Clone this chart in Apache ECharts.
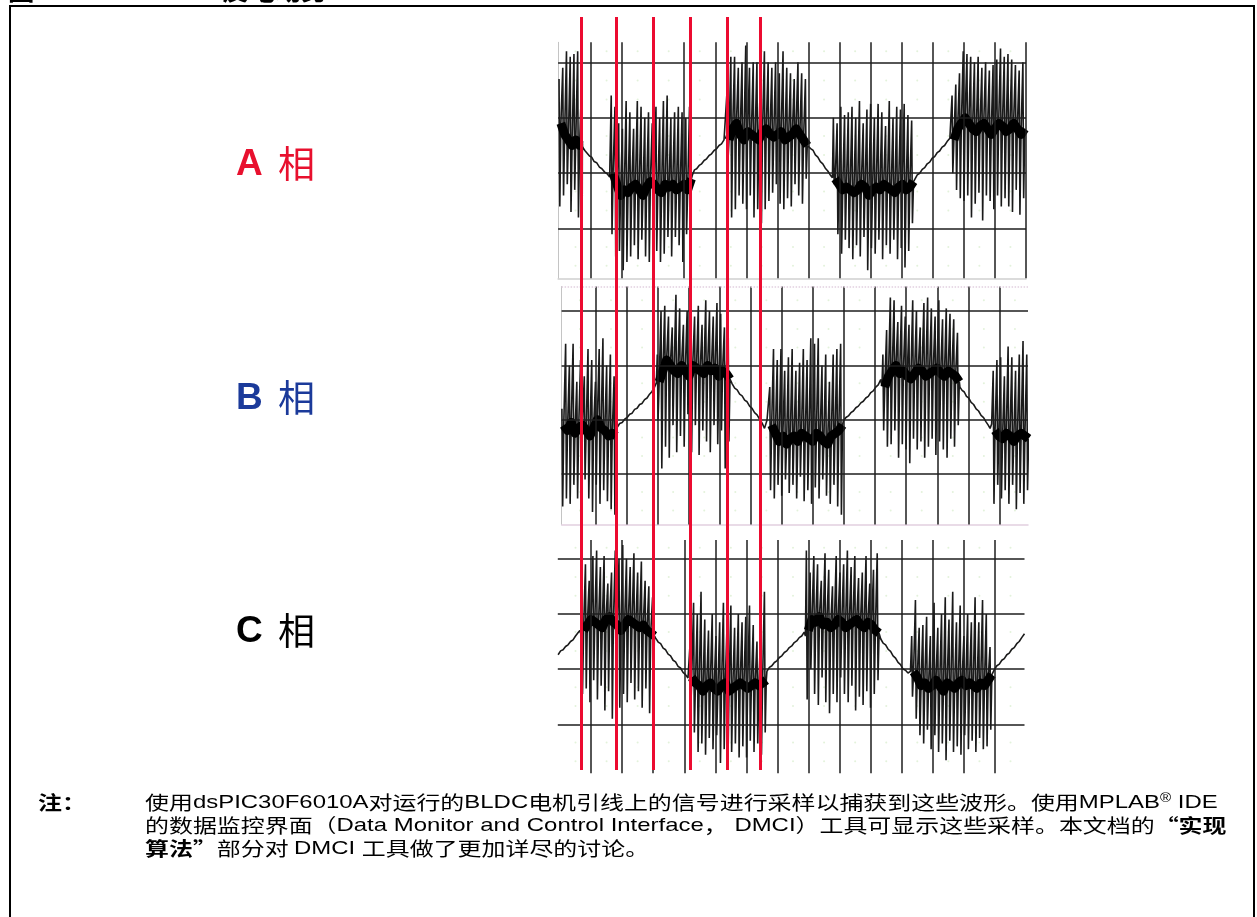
<!DOCTYPE html>
<html>
<head>
<meta charset="utf-8">
<script src="https://cdn.jsdelivr.net/npm/echarts@6/dist/echarts.min.js"></script>
<style>
html,body{margin:0;padding:0;background:#fff;}
#chart{width:1257px;height:917px;}
</style>
</head>
<body>
<div id="chart"></div>
<script>
// Scope traces: time in screen divisions, voltage in screen divisions.
const divisionTicks = [1, 2, 3, 4, 5, 6, 7, 8, 9, 10, 11, 12, 13, 14, 15];
const voltageLevels = [0, 1, 2, 3];
const minorDotX = [0.5, 1.5, 2.5, 3.5, 4.5, 5.5, 6.5, 7.5, 8.5, 9.5, 10.5, 11.5, 12.5, 13.5, 14.5];
const minorDotY = [-0.67, -0.33, 0.33, 0.67, 1.33, 1.67, 2.33, 2.67, 3.2];
const pwmPeriod = 0.12;                      // time between PWM samples
const commutationMarks = [0.70, 1.82, 3.00, 4.18, 5.37, 6.44];

// ---- Phase A ----
const phaseA_start = [-0.03, 1.65, 5.38, 8.80, 12.62];
const phaseA_hi = [
  [2.7, 2.9, 3.2, 3.1, 3.15, 3.2, 2.5],
  [2.4, 2.2, 1.9, 1.8, 2.3, 2.1, 1.8, 2.3, 2.2, 2.0, 2.1, 1.9, 2.2, 2.0, 2.3, 2.4, 2.0, 2.1, 2.2, 2.1, 2.0, 2.2],
  [2.5, 3.1, 3.1, 2.9, 3.0, 3.3, 2.9, 3.0, 3.0, 2.9, 3.2, 3.0, 2.9, 3.0, 2.8, 3.2, 2.9, 2.8, 2.7, 3.0, 2.8, 2.7],
  [2.0, 1.9, 2.2, 2.05, 2.1, 2.2, 2.0, 2.3, 1.9, 2.15, 2.25, 2.0, 2.25, 2.1, 1.85, 2.3, 2.0, 2.2, 2.15, 2.25, 2.05, 1.95],
  [2.4, 2.6, 2.8, 3.2, 3.15, 3.1, 3.0, 3.1, 2.9, 3.0, 2.85, 2.95, 3.05, 3.25, 3.1, 3.15, 3.05, 2.95, 2.85, 3.0]
];
const phaseA_lo = [
  [0.4, 0.6, 0.8, 0.3, 0.7, 0.2, 0.1],
  [-0.1, -0.5, -0.4, -0.75, -0.6, -0.5, -0.3, -0.55, -0.2, -0.5, -0.6, -0.25, -0.4, -0.6, -0.45, -0.15, -0.5, -0.15, -0.3, -0.6, -0.1, -0.7],
  [1.2, 0.2, 0.35, 0.6, 0.45, 0.35, 0.6, 0.2, 0.35, 0.1, 0.35, 0.5, 0.65, 0.8, 0.45, 0.35, 0.55, 0.4, 0.8, 0.6, 0.45, 0.9],
  [0.8, -0.1, -0.45, -0.2, -0.35, -0.55, -0.3, -0.5, -0.15, -0.75, -0.35, -0.45, -0.2, -0.55, -0.3, -0.45, -0.2, -0.55, -0.35, -0.7, -0.4, 0.1],
  [1.0, 0.7, 0.55, 0.5, 0.6, 0.2, 0.45, 0.65, 0.15, 0.6, 0.5, 0.35, 0.6, 0.4, 0.55, 0.4, 0.3, 0.7, 0.25, 0.55]
];
const phaseA_mid = [
  [1.9, 1.7, 1.6, 1.5, 1.6, 1.5, 1.5],
  [1.0, 0.8, 0.6, 0.7, 0.65, 0.75, 0.8, 0.7, 0.6, 0.75, 0.85, 0.8, 0.7, 0.65, 0.8, 0.75, 0.8, 0.7, 0.75, 0.8, 0.7, 0.9],
  [1.6, 1.8, 1.9, 1.7, 1.6, 1.75, 1.7, 1.65, 1.6, 1.75, 1.8, 1.7, 1.65, 1.7, 1.75, 1.6, 1.65, 1.7, 1.8, 1.7, 1.6, 1.5],
  [0.9, 0.8, 0.7, 0.75, 0.7, 0.65, 0.7, 0.8, 0.75, 0.6, 0.7, 0.75, 0.7, 0.8, 0.75, 0.7, 0.65, 0.75, 0.8, 0.7, 0.75, 0.85],
  [1.6, 1.8, 1.9, 2.0, 1.9, 1.8, 1.75, 1.85, 1.9, 1.8, 1.7, 1.8, 1.9, 1.85, 1.75, 1.8, 1.9, 1.8, 1.7, 1.8]
];
const phaseA_ramps = [
  [[0.72,1.48],[0.80,1.41],[0.86,1.39],[0.95,1.31],[1.02,1.29],[1.10,1.21],[1.18,1.19],[1.27,1.11],[1.35,1.08],[1.44,1.02],[1.52,0.99],[1.60,0.93]],
  [[4.27,0.98],[4.33,1.06],[4.40,1.08],[4.48,1.14],[4.56,1.17],[4.64,1.23],[4.72,1.26],[4.80,1.32],[4.88,1.35],[4.96,1.41],[5.04,1.44],[5.12,1.50],[5.20,1.53],[5.28,1.60],[5.34,1.63]],
  [[8.00,1.52],[8.08,1.44],[8.15,1.41],[8.22,1.33],[8.30,1.29],[8.38,1.21],[8.46,1.17],[8.54,1.09],[8.62,1.04],[8.70,0.97],[8.77,0.92]],
  [[11.43,0.90],[11.50,0.97],[11.58,1.00],[11.66,1.07],[11.74,1.10],[11.82,1.17],[11.90,1.20],[11.98,1.27],[12.06,1.30],[12.14,1.37],[12.22,1.40],[12.30,1.47],[12.38,1.50],[12.46,1.57],[12.55,1.63]]
];

// ---- Phase B ----
const phaseB_start = [-0.08, 2.99, 6.61, 10.25, 13.80];
const phaseB_hi = [
  [1.2, 2.4, 2.0, 2.4, 1.7, 2.1, 1.8, 2.3, 2.1, 1.7, 2.3, 2.5, 2.0, 2.2, 1.8],
  [2.2, 3.0, 3.1, 2.9, 2.7, 3.3, 3.05, 2.75, 3.0, 3.15, 2.9, 3.1, 2.75, 3.2, 3.0, 2.9, 3.15, 2.95, 2.7, 2.75],
  [1.6, 2.3, 2.1, 2.3, 1.9, 2.15, 2.3, 1.9, 2.05, 2.3, 2.1, 2.5, 2.4, 2.5, 2.0, 2.2, 1.7, 2.2, 2.3, 2.4],
  [2.2, 2.65, 3.25, 3.2, 2.8, 3.1, 2.9, 2.75, 3.2, 3.0, 2.7, 3.15, 3.25, 3.05, 2.9, 3.2, 2.85, 3.05, 2.95, 2.85, 2.6],
  [1.9, 2.1, 2.15, 1.8, 2.35, 2.15, 1.9, 2.2, 2.45, 2.2]
];
const phaseB_lo = [
  [-0.6, -0.45, -0.55, -0.2, -0.45, -0.3, -0.1, -0.45, -0.7, -0.2, -0.55, -0.3, -0.5, -0.65, -0.75],
  [1.0, 0.1, 0.5, 0.3, 0.9, 0.4, 0.7, 0.5, 1.1, 0.4, 0.9, 0.35, 0.8, 0.6, 0.4, 0.9, 0.55, 0.8, 0.1, 0.6],
  [-0.3, -0.45, -0.2, -0.4, -0.1, -0.35, -0.2, -0.45, -0.05, -0.5, -0.3, -0.55, -0.25, -0.45, -0.1, -0.4, -0.55, -0.2, -0.6, -0.75],
  [0.8, 0.5, 0.55, 0.8, 0.3, 0.55, 0.45, 0.2, 0.65, 0.45, 0.6, 0.3, 0.5, 0.65, 0.35, 0.6, 0.45, 0.3, 0.65, 0.5, 0.9],
  [-0.55, -0.2, -0.45, -0.3, -0.55, -0.2, -0.65, -0.35, -0.55, -0.3]
];
const phaseB_mid = [
  [0.9, 0.8, 0.95, 0.75, 0.85, 0.9, 0.8, 0.7, 0.85, 1.0, 0.85, 0.8, 0.7, 0.75, 0.7],
  [1.7, 1.9, 2.1, 2.0, 1.9, 1.85, 2.0, 1.9, 1.8, 2.0, 1.95, 1.9, 1.85, 2.0, 1.9, 1.95, 1.8, 1.9, 1.85, 1.75],
  [0.9, 0.75, 0.6, 0.7, 0.55, 0.65, 0.7, 0.6, 0.75, 0.7, 0.65, 0.6, 0.75, 0.7, 0.6, 0.55, 0.7, 0.75, 0.8, 0.9],
  [1.6, 1.8, 1.9, 2.0, 1.85, 1.9, 1.8, 1.75, 1.85, 1.95, 1.9, 1.8, 1.85, 1.9, 1.95, 1.85, 1.8, 1.9, 1.85, 1.8, 1.7],
  [0.8, 0.7, 0.65, 0.75, 0.7, 0.6, 0.7, 0.75, 0.7, 0.65]
];
const phaseB_ramps = [
  [[1.70,0.86],[1.78,0.93],[1.86,0.95],[1.94,1.01],[2.02,1.04],[2.10,1.10],[2.18,1.12],[2.26,1.19],[2.34,1.21],[2.42,1.28],[2.50,1.30],[2.58,1.37],[2.66,1.40],[2.74,1.47],[2.82,1.52],[2.90,1.60],[2.96,1.68]],
  [[5.40,1.66],[5.48,1.58],[5.56,1.55],[5.64,1.47],[5.72,1.44],[5.80,1.36],[5.88,1.33],[5.96,1.25],[6.04,1.21],[6.12,1.13],[6.20,1.09],[6.28,1.01],[6.36,0.94],[6.44,0.84],[6.52,0.99]],
  [[8.98,0.98],[9.06,1.04],[9.14,1.07],[9.22,1.13],[9.30,1.16],[9.38,1.22],[9.46,1.25],[9.54,1.31],[9.62,1.34],[9.70,1.40],[9.78,1.43],[9.86,1.50],[9.94,1.53],[10.02,1.60],[10.10,1.64],[10.18,1.74],[10.22,1.62]],
  [[12.73,1.60],[12.80,1.54],[12.87,1.51],[12.94,1.43],[13.01,1.40],[13.09,1.32],[13.17,1.28],[13.25,1.20],[13.33,1.16],[13.41,1.08],[13.49,1.04],[13.57,0.96],[13.64,0.90],[13.70,0.84],[13.75,0.92]]
];

// ---- Phase C ----
const phaseC_start = [0.70, 4.18, 7.93, 11.32];
const phaseC_hi = [
  [2.8, 2.9, 2.6, 3.05, 3.15, 2.85, 3.05, 2.55, 2.75, 3.15, 3.0, 3.25, 3.0, 2.85, 3.1, 2.75, 2.95, 2.6, 2.5, 2.3],
  [1.4, 2.2, 2.0, 2.4, 1.9, 1.7, 2.0, 1.6, 1.85, 2.2, 1.85, 2.15, 1.75, 2.0, 1.85, 1.95, 2.15, 1.8, 1.5, 1.7, 2.4],
  [3.15, 2.75, 3.05, 2.9, 2.6, 3.1, 2.8, 2.5, 3.05, 2.75, 2.9, 3.15, 2.85, 3.05, 2.65, 2.75, 3.05, 2.55, 2.8, 3.1],
  [1.6, 2.25, 1.75, 1.8, 1.95, 1.6, 2.2, 1.75, 2.0, 2.3, 1.9, 2.4, 1.85, 2.15, 1.6, 2.0, 1.85, 2.3, 1.85, 2.25, 2.0, 1.4]
];
const phaseC_lo = [
  [0.55, 0.65, 0.4, 0.8, 0.45, 0.7, 0.25, 0.6, 0.1, 0.5, 0.3, 0.55, 0.4, 0.75, 0.45, 0.6, 0.3, 0.65, 0.2, 0.6],
  [0.15, -0.15, -0.5, -0.35, -0.55, -0.25, -0.45, -0.2, -0.7, -0.45, -0.75, -0.5, -0.35, -0.6, -0.4, -0.6, -0.3, -0.5, -0.35, -0.55, -0.15],
  [0.45, 1.0, 0.55, 0.35, 0.85, 0.4, 0.2, 0.55, 0.4, 0.85, 0.55, 0.4, 0.7, 0.25, 0.5, 0.35, 0.6, 0.3, 0.55, 0.8],
  [0.5, 0.1, -0.2, -0.35, -0.1, -0.45, -0.2, -0.5, -0.35, -0.65, -0.3, -0.5, -0.4, -0.55, -0.2, -0.45, -0.3, -0.5, -0.25, -0.45, -0.4, -0.1]
];
const phaseC_mid = [
  [1.7, 1.8, 1.9, 1.85, 1.8, 1.75, 1.9, 1.95, 1.85, 1.8, 1.7, 1.8, 1.9, 1.85, 1.8, 1.75, 1.8, 1.7, 1.65, 1.6],
  [0.85, 0.75, 0.7, 0.6, 0.7, 0.75, 0.65, 0.6, 0.7, 0.75, 0.6, 0.65, 0.7, 0.75, 0.7, 0.65, 0.7, 0.75, 0.7, 0.75, 0.8],
  [1.7, 1.9, 1.85, 1.95, 1.8, 1.85, 1.75, 1.8, 1.9, 1.85, 1.75, 1.8, 1.85, 1.9, 1.8, 1.75, 1.85, 1.8, 1.7, 1.65],
  [0.95, 0.85, 0.7, 0.75, 0.65, 0.7, 0.8, 0.7, 0.6, 0.75, 0.7, 0.65, 0.75, 0.8, 0.7, 0.75, 0.7, 0.65, 0.75, 0.7, 0.8, 0.9]
];
const phaseC_ramps = [
  [[-0.06,1.26],[0.02,1.33],[0.10,1.35],[0.18,1.41],[0.26,1.44],[0.34,1.50],[0.42,1.53],[0.50,1.60],[0.58,1.66],[0.64,1.70],[0.68,1.62]],
  [[3.08,1.56],[3.16,1.49],[3.24,1.46],[3.32,1.38],[3.40,1.35],[3.48,1.27],[3.56,1.24],[3.64,1.16],[3.72,1.13],[3.80,1.05],[3.88,1.02],[3.96,0.94],[4.04,0.90],[4.12,0.84]],
  [[6.66,0.96],[6.74,1.03],[6.82,1.06],[6.90,1.12],[6.98,1.15],[7.06,1.21],[7.14,1.24],[7.22,1.30],[7.30,1.33],[7.38,1.39],[7.46,1.42],[7.54,1.48],[7.62,1.51],[7.70,1.57],[7.78,1.60],[7.86,1.67],[7.90,1.60]],
  [[10.32,1.55],[10.40,1.47],[10.48,1.44],[10.56,1.36],[10.64,1.32],[10.72,1.24],[10.80,1.20],[10.88,1.12],[10.96,1.08],[11.04,1.00],[11.12,0.98],[11.20,0.93],[11.28,0.96]],
  [[13.98,0.99],[14.06,1.06],[14.14,1.09],[14.22,1.16],[14.30,1.19],[14.38,1.26],[14.46,1.29],[14.54,1.36],[14.62,1.39],[14.70,1.46],[14.78,1.50],[14.86,1.57],[14.95,1.64]]
];

const phaseLabels = ['A', 'B', 'C'];
const phaseWord = '相';

// Assemble one continuous trace (PWM bursts + floating ramps) and the dense centre band.
function buildTrace(starts, his, los, mids, ramps) {
  const pts = [];
  const band = [];
  starts.forEach((t0, b) => {
    his[b].forEach((h, i) => {
      const t = t0 + i * pwmPeriod;
      pts.push([t, h], [t + 0.025, los[b][i]], [t + 0.06, mids[b][i]]);
      band.push([t + 0.06, mids[b][i]]);
    });
    band.push([t0 + his[b].length * pwmPeriod, '-']);
  });
  ramps.forEach(r => r.forEach(p => pts.push(p)));
  pts.sort((a, b) => a[0] - b[0]);
  return { pts, band };
}

const traces = [
  buildTrace(phaseA_start, phaseA_hi, phaseA_lo, phaseA_mid, phaseA_ramps),
  buildTrace(phaseB_start, phaseB_hi, phaseB_lo, phaseB_mid, phaseB_ramps),
  buildTrace(phaseC_start, phaseC_hi, phaseC_lo, phaseC_mid, phaseC_ramps)
];

// Panel frames (pixels) and axis windows (divisions)
const panels = [
  { left: 558.1, top: 42.3, width: 467.9, height: 236.0, xMin: -0.06, xMax: 15.0, yMin: -0.894, yMax: 3.36, vLines: divisionTicks, frame: 'A' },
  { left: 561.6, top: 286.5, width: 466.4, height: 238.0, xMin: -0.09, xMax: 14.92, yMin: -0.93, yMax: 3.453, vLines: divisionTicks.slice(0, 14), frame: 'B' },
  { left: 557.8, top: 540.0, width: 466.7, height: 233.3, xMin: -0.07, xMax: 14.95, yMin: -0.888, yMax: 3.339, vLines: divisionTicks.slice(0, 14), frame: 'C' }
];

const grids = [], xAxes = [], yAxes = [], series = [];
const gridLineStyle = { color: '#1e1e1e', width: 1.5, type: 'solid' };

panels.forEach((p, i) => {
  grids.push({
    left: p.left, top: p.top, width: p.width, height: p.height,
    show: false
  });
  xAxes.push({
    type: 'value', gridIndex: i, min: p.xMin, max: p.xMax,
    position: 'bottom',
    axisLine: { show: p.frame !== 'C', onZero: false, lineStyle: { color: p.frame === 'B' ? '#e2cfe0' : '#cfcfcf', width: 1.5 } },
    axisTick: { show: false }, axisLabel: { show: false }, splitLine: { show: false }
  });
  yAxes.push({
    type: 'value', gridIndex: i, min: p.yMin, max: p.yMax,
    axisLine: { show: p.frame !== 'C', onZero: false, lineStyle: { color: '#c4c4c4', width: 1 } },
    axisTick: { show: false }, axisLabel: { show: false }, splitLine: { show: false }
  });
  // minor dot grid
  const dots = [];
  minorDotX.forEach(x => minorDotY.forEach(y => { if (x < p.xMax && y > p.yMin && y < p.yMax) dots.push([x, y]); }));
  series.push({
    type: 'scatter', xAxisIndex: i, yAxisIndex: i, data: dots, symbolSize: 2,
    itemStyle: { color: '#dcefd2' }, silent: true, z: 1
  });
  // major grid lines
  const lines = p.vLines.map(k => ({ xAxis: k })).concat(voltageLevels.map(v => ({ yAxis: v })));
  if (p.frame === 'B') lines.push({ yAxis: p.yMax, lineStyle: { color: '#e2cfe0', width: 1.5, type: 'dotted' } });
  series.push({
    type: 'line', xAxisIndex: i, yAxisIndex: i, data: [], silent: true, z: 2,
    markLine: {
      silent: true, symbol: ['none', 'none'], label: { show: false }, animation: false,
      lineStyle: gridLineStyle, emphasis: { disabled: true },
      data: lines
    }
  });
  // signal trace
  series.push({
    type: 'line', xAxisIndex: i, yAxisIndex: i, data: traces[i].pts,
    showSymbol: false, symbol: 'none', sampling: false, silent: true, z: 3,
    lineStyle: { color: '#1a1a1a', width: 1.6 }
  });
  // dense centre band of the PWM bursts
  series.push({
    type: 'line', xAxisIndex: i, yAxisIndex: i, data: traces[i].band,
    showSymbol: false, symbol: 'none', connectNulls: false, silent: true, z: 4,
    lineStyle: { color: '#000', width: 9, join: 'round' }
  });
});

// commutation markers crossing all three traces
grids.push({ left: 558.1, top: 17, width: 467.9, height: 753, show: false });
xAxes.push({ type: 'value', gridIndex: 3, min: -0.06, max: 15.0, show: false });
yAxes.push({ type: 'value', gridIndex: 3, min: 0, max: 1, show: false });
series.push({
  type: 'line', xAxisIndex: 3, yAxisIndex: 3, data: [], silent: true, z: 10,
  markLine: {
    silent: true, symbol: ['none', 'none'], label: { show: false }, animation: false,
    lineStyle: { color: '#ec0b30', width: 3, type: 'solid' }, emphasis: { disabled: true },
    data: commutationMarks.map(x => ({ xAxis: x }))
  }
});

const cjk = '"Noto Sans CJK SC", sans-serif';
const latin = '"Liberation Sans", Arial, sans-serif';
const labelColors = ['#e8102e', '#1b3a9a', '#000000'];
const labelY = [165, 399, 632];
const textStretch = 1.26;   // the note block is set wide

const graphic = [
  { type: 'rect', shape: { x: 10, y: 6, width: 1244, height: 920 }, style: { fill: 'none', stroke: '#000', lineWidth: 2 }, silent: true },
  { type: 'text', x: 8, y: -19, scaleX: 1.2, style: { text: '图 3:', font: 'bold 22px ' + cjk, fill: '#000' }, silent: true },
  { type: 'text', x: 222, y: -19, scaleX: 1.2, style: { text: '反电动势', font: 'bold 22px ' + cjk, fill: '#000' }, silent: true }
];
phaseLabels.forEach((l, i) => {
  graphic.push({
    type: 'text', x: 236, y: labelY[i], silent: true,
    style: { text: l, font: 'bold 37px ' + latin, fill: labelColors[i], verticalAlign: 'middle' }
  });
  graphic.push({
    type: 'text', x: 278, y: labelY[i] - 1, silent: true,
    style: { text: phaseWord, font: '37px ' + cjk, fill: labelColors[i], verticalAlign: 'middle' }
  });
});

const noteRich = {
  t: { font: '19px ' + cjk, fill: '#000' },
  l: { font: '19px ' + latin, fill: '#000' },
  bold: { font: 'bold 19px ' + cjk, fill: '#000' },
  sup: { font: '12px ' + latin, fill: '#000', padding: [0, 0, 9, 0] }
};
const noteLines = [
  '{t|使用}{l|dsPIC30F6010A}{t|对运行的}{l|BLDC}{t|电机引线上的信号进行采样以捕获到这些波形。使用}{l|MPLAB}{sup|®}{l| IDE}',
  '{t|的数据监控界面（}{l|Data Monitor and Control Interface}{t|，}{l| DMCI}{t|）工具可显示这些采样。本文档的}{bold|“实现}',
  '{bold|算法”}{t|部分对 }{l|DMCI }{t|工具做了更加详尽的讨论。}'
];
const noteY = [803, 826, 849];
graphic.push({
  type: 'text', x: 38, y: 803, scaleX: textStretch, silent: true,
  style: { text: '注：', font: 'bold 19px ' + cjk, fill: '#000', verticalAlign: 'middle' }
});
noteLines.forEach((s, i) => {
  graphic.push({
    type: 'text', x: 145, y: noteY[i], scaleX: textStretch, silent: true,
    style: { text: s, rich: noteRich, verticalAlign: 'middle' }
  });
});

const chart = echarts.init(document.getElementById('chart'));
chart.setOption({
  animation: false,
  backgroundColor: '#fff',
  grid: grids, xAxis: xAxes, yAxis: yAxes, series: series,
  graphic: graphic
});
</script>
</body>
</html>
